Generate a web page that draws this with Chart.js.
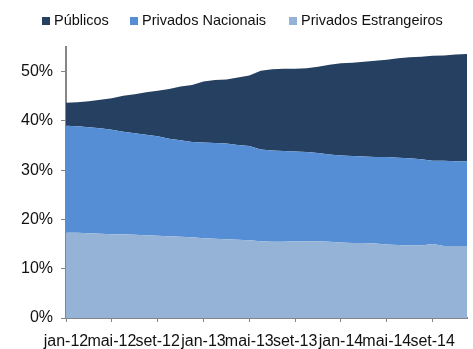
<!DOCTYPE html>
<html>
<head>
<meta charset="utf-8">
<script src="https://cdn.jsdelivr.net/npm/chart.js@4.4.1/dist/chart.umd.min.js"></script>
<style>
html,body{margin:0;padding:0;background:#fff;}
#wrap{width:473px;height:349px;}
</style>
</head>
<body>
<div id="wrap"><canvas id="c" width="473" height="349"></canvas></div>
<script>
const months = [
  'jan-12','fev-12','mar-12','abr-12','mai-12','jun-12','jul-12','ago-12','set-12','out-12','nov-12','dez-12',
  'jan-13','fev-13','mar-13','abr-13','mai-13','jun-13','jul-13','ago-13','set-13','out-13','nov-13','dez-13',
  'jan-14','fev-14','mar-14','abr-14','mai-14','jun-14','jul-14','ago-14','set-14','out-14','nov-14','dez-14'
];
const privadosEstrangeiros = [
  17.3,17.3,17.2,17.1,17.0,17.0,16.9,16.8,16.7,16.6,16.5,16.4,
  16.2,16.1,16.0,15.9,15.8,15.6,15.5,15.5,15.6,15.6,15.6,15.5,
  15.3,15.2,15.2,15.1,14.9,14.8,14.7,14.7,15.0,14.6,14.6,14.6
];
const privadosNacionais = [
  21.7,21.6,21.5,21.4,21.2,20.8,20.6,20.4,20.2,19.8,19.6,19.3,
  19.4,19.4,19.4,19.2,19.1,18.6,18.5,18.4,18.2,18.1,17.9,17.7,
  17.7,17.7,17.6,17.6,17.8,17.7,17.7,17.5,16.9,17.3,17.2,17.2
];
const publicos = [
  4.7,4.9,5.3,5.8,6.4,7.3,7.9,8.6,9.2,10.1,10.9,11.6,
  12.4,12.8,13.0,13.7,14.3,16.0,16.5,16.7,16.8,17.0,17.5,18.2,
  18.7,18.9,19.2,19.5,19.7,20.2,20.5,20.8,21.3,21.4,21.7,21.8
];
const seriesNames = ['Privados Estrangeiros', 'Privados Nacionais', 'P\u00fablicos'];
const yTicks = [0,10,20,30,40,50];
const yMax = 55;

const font = "'Liberation Sans', Arial, sans-serif";

// Legend drawn on the canvas from the chart's own dataset labels/colours (top-to-bottom order)
const topLegend = {
  id: 'topLegend',
  afterDraw(chart) {
    const ctx = chart.ctx;
    const items = chart.data.datasets.slice().reverse();
    const itemX = [42, 130, 289];
    const box = 8, gapText = 4, base = 25;
    ctx.save();
    ctx.font = '14.5px ' + font;
    ctx.textBaseline = 'alphabetic';
    ctx.textAlign = 'left';
    items.forEach((d, i) => {
      const x = itemX[i];
      ctx.fillStyle = d.backgroundColor;
      ctx.fillRect(x, base - box, box, box);
      ctx.fillStyle = '#111';
      ctx.fillText(d.label, x + box + gapText, base);
    });
    ctx.restore();
  }
};

new Chart(document.getElementById('c'), {
  type: 'line',
  data: {
    labels: months,
    datasets: [
      { label: seriesNames[0], data: privadosEstrangeiros, backgroundColor: '#95B3D7', borderWidth: 0, fill: 'origin', pointRadius: 0, tension: 0 },
      { label: seriesNames[1], data: privadosNacionais, backgroundColor: '#558ED5', borderWidth: 0, fill: '-1', pointRadius: 0, tension: 0 },
      { label: seriesNames[2], data: publicos, backgroundColor: '#254061', borderWidth: 0, fill: '-1', pointRadius: 0, tension: 0 }
    ]
  },
  options: {
    responsive: false,
    animation: false,
    devicePixelRatio: 1,
    layout: { padding: { top: 47, left: 21, right: 6, bottom: 0 } },
    plugins: {
      legend: { display: false },
      tooltip: { enabled: false }
    },
    scales: {
      x: {
        type: 'category',
        offset: false,
        afterFit: function(scale) { scale.height = 31; },
        grid: { drawOnChartArea: false, drawTicks: true, tickLength: 4, color: '#868686', lineWidth: 1 },
        border: { color: '#868686', width: 2 },
        ticks: {
          autoSkip: false, maxRotation: 0, minRotation: 0, padding: 10, color: '#111',
          font: { family: font, size: 16 },
          callback: function(v, i) { return i % 4 === 0 ? months[i] : null; }
        }
      },
      y: {
        stacked: true,
        min: 0,
        max: yMax,
        afterFit: function(scale) { scale.width = 45; },
        grid: { drawOnChartArea: false, drawTicks: true, tickLength: 5, color: '#868686', lineWidth: 1 },
        border: { color: '#868686', width: 2 },
        afterBuildTicks: function(axis) { axis.ticks = yTicks.map(v => ({ value: v })); },
        ticks: {
          padding: 8, color: '#111',
          font: { family: font, size: 16 },
          callback: function(v) { return v + '%'; }
        }
      }
    }
  },
  plugins: [topLegend]
});
</script>
</body>
</html>
